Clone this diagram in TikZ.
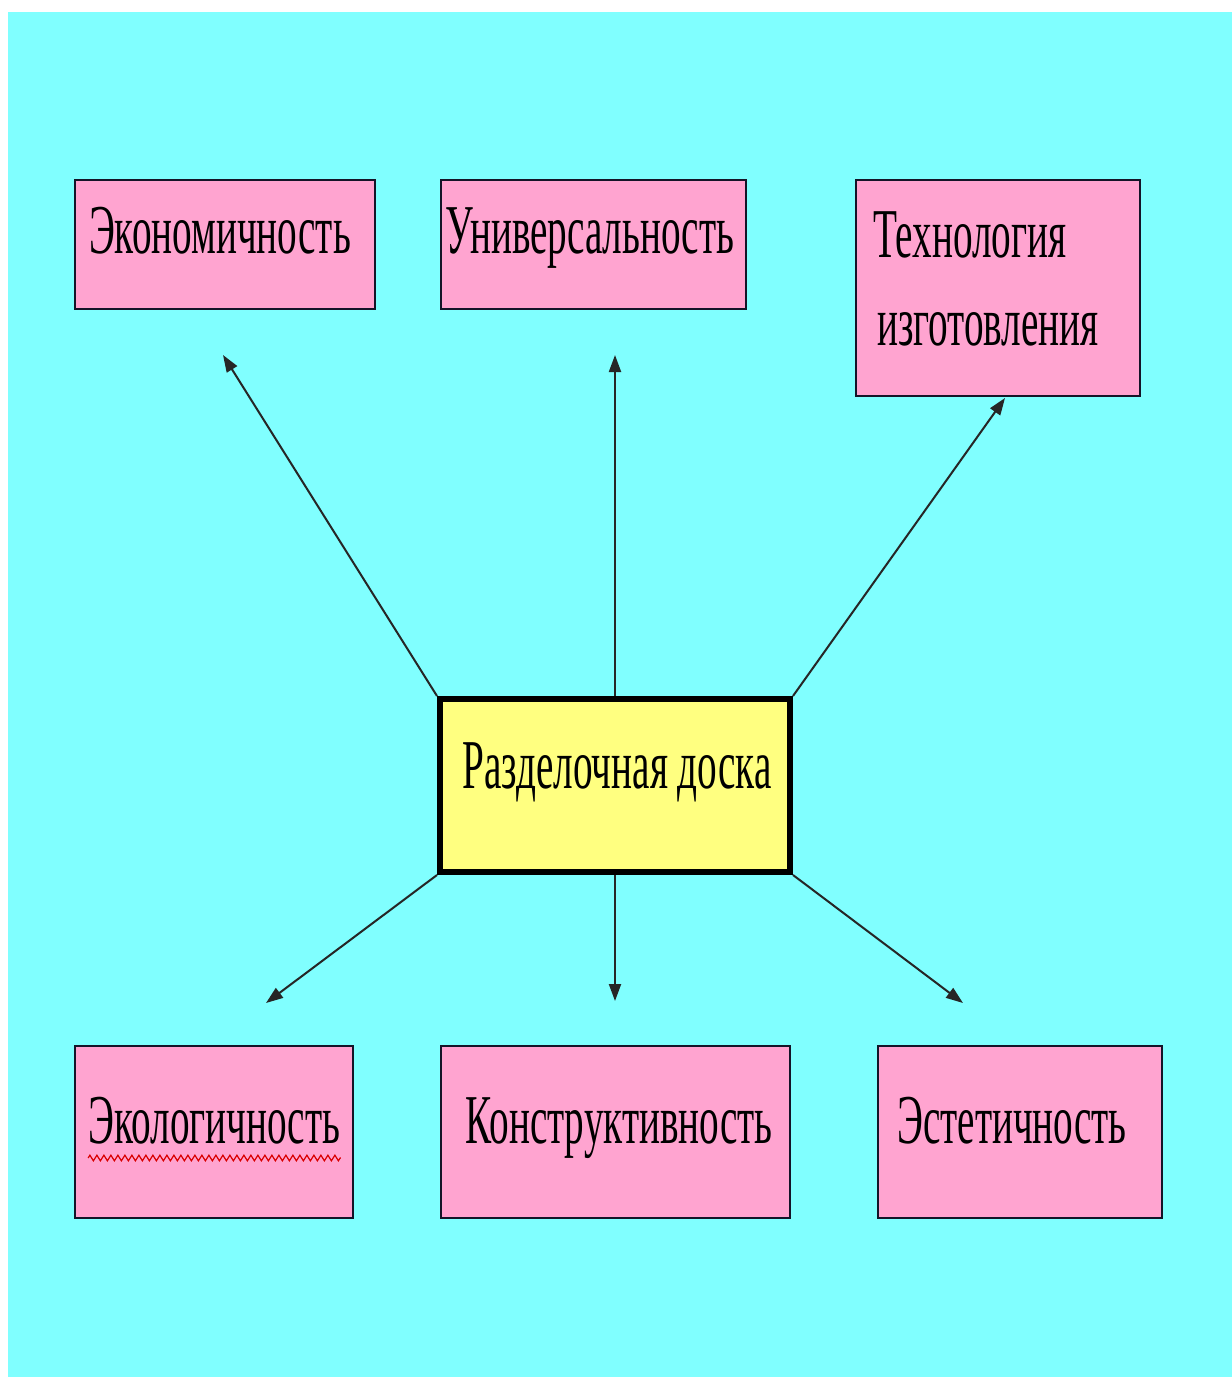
\documentclass[tikz,border=0pt]{standalone}
\usepackage{fontspec}
\setmainfont{Liberation Serif}
\newfontfamily\tnr[FakeStretch=0.56]{Liberation Serif}
\usetikzlibrary{arrows.meta,decorations.pathmorphing}
\definecolor{bgcyan}{RGB}{128,255,255}
\definecolor{boxpink}{RGB}{255,164,208}
\definecolor{boxyellow}{RGB}{255,255,128}
\definecolor{edgedark}{RGB}{20,20,40}
\tikzset{
  pinkbox/.style={draw=edgedark, line width=1pt, fill=boxpink, inner sep=0pt},
  centerbox/.style={draw=black, line width=3pt, fill=boxyellow, inner sep=0pt},
  lbl/.style={inner sep=0pt, anchor=base, font=\tnr\fontsize{35}{40}\selectfont},
  conn/.style={draw=black!85, line width=1pt, -{Triangle[length=8.5pt,width=6pt]}},
}
\begin{document}
\begin{tikzpicture}[x=0.5pt,y=-0.5pt]
\useasboundingbox (0,0) rectangle (1232,1377);
\fill[white] (0,0) rectangle (1232,1377);
\fill[bgcyan] (8,12) rectangle (1232,1377);

% boxes
\node[pinkbox, minimum width=150pt, minimum height=64.5pt] (eco) at (225,244.5) {};
\node[pinkbox, minimum width=152.5pt, minimum height=64.5pt] (uni) at (593.5,244.5) {};
\node[pinkbox, minimum width=142pt, minimum height=108pt] (tech) at (998,288) {};
\node[pinkbox, minimum width=139pt, minimum height=86pt] (ecol) at (214,1132) {};
\node[pinkbox, minimum width=174.5pt, minimum height=86pt] (kon) at (615.5,1132) {};
\node[pinkbox, minimum width=142pt, minimum height=86pt] (est) at (1020,1132) {};
\node[centerbox, minimum width=175pt, minimum height=86.5pt] (c) at (615,785.5) {};

% texts
\node[lbl] (ecot) at (220,253) {Экономичность};
\node[lbl] (unit) at (590,253) {Универсальность};
\node[lbl] (techt1) at (970,257) {Технология};
\node[lbl] (techt2) at (988,345) {изготовления};
\node[lbl] (ct) at (617,788) {Разделочная доска};
\node[lbl] (ecolt) at (214.5,1143) {Экологичность};
\node[lbl] (kont) at (619,1143) {Конструктивность};
\node[lbl] (estt) at (1012,1143) {Эстетичность};

% spell-check squiggle
\draw[red!85!black, line width=0.6pt, decorate, decoration={zigzag, segment length=3.5pt, amplitude=1.4pt}]
  ([yshift=-7.5pt]ecolt.base west) -- ([yshift=-7.5pt]ecolt.base east);

% arrow end points
\coordinate (p1) at (223,355);
\coordinate (p2) at (615,355);
\coordinate (p3) at (1005,398);
\coordinate (p4) at (266,1003);
\coordinate (p5) at (615,1001);
\coordinate (p6) at (963,1003);

\draw[conn] (c.north west) -- (p1);
\draw[conn] (c.north) -- (p2);
\draw[conn] (c.north east) -- (p3);
\draw[conn] (c.south west) -- (p4);
\draw[conn] (c.south) -- (p5);
\draw[conn] (c.south east) -- (p6);
\end{tikzpicture}
\end{document}
